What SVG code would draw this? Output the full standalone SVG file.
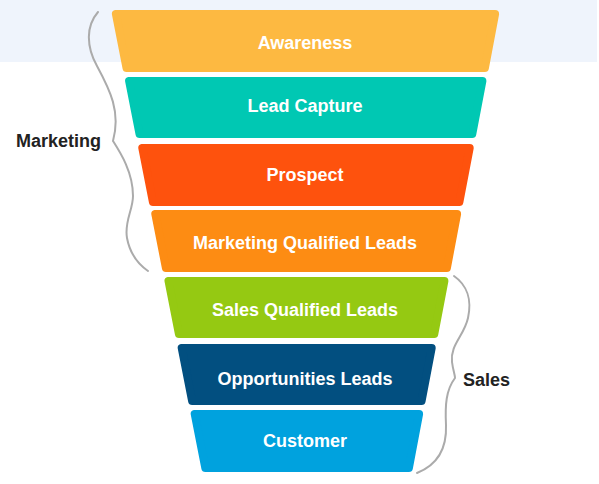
<svg xmlns="http://www.w3.org/2000/svg" width="599" height="484" viewBox="0 0 599 484">
<style>
.band{stroke-width:8;stroke-linejoin:round}
.lbl{font-family:"Liberation Sans",Arial,sans-serif;font-weight:bold;font-size:18px;fill:#ffffff;text-anchor:middle}
.side{font-family:"Liberation Sans",Arial,sans-serif;font-weight:bold;font-size:18px;fill:#222222}
.brace{fill:none;stroke:#ababab;stroke-width:2;stroke-linecap:round}
</style>
<rect x="0" y="0" width="599" height="484" fill="#ffffff"/>
<rect x="0" y="0" width="597" height="62" fill="#eff4fc"/>
<g id="awareness">
<polygon class="band" fill="#fdb941" stroke="#fdb941" points="115.9,14 495.1,14 484.9,68 126.5,68"/>
<text class="lbl" x="305" y="49">Awareness</text>
</g>
<g id="lead-capture">
<polygon class="band" fill="#00c8b3" stroke="#00c8b3" points="129.1,81 482.4,81 472.3,134 139.5,134"/>
<text class="lbl" x="305" y="112">Lead Capture</text>
</g>
<g id="prospect">
<polygon class="band" fill="#fe520d" stroke="#fe520d" points="142.3,148 469.7,148 459.4,202 152.9,202"/>
<text class="lbl" x="305" y="181">Prospect</text>
</g>
<g id="mql">
<polygon class="band" fill="#fd8c13" stroke="#fd8c13" points="155.3,214 457.1,214 446.9,268 165.9,268"/>
<text class="lbl" x="305" y="249">Marketing Qualified Leads</text>
</g>
<g id="sql">
<polygon class="band" fill="#95c912" stroke="#95c912" points="168.5,281 444.4,281 434.3,334 178.9,334"/>
<text class="lbl" x="305" y="316">Sales Qualified Leads</text>
</g>
<g id="opportunities">
<polygon class="band" fill="#024f80" stroke="#024f80" points="181.7,348 431.7,348 421.6,401 192.1,401"/>
<text class="lbl" x="305" y="385">Opportunities Leads</text>
</g>
<g id="customer">
<polygon class="band" fill="#00a2de" stroke="#00a2de" points="194.7,414 419.1,414 408.9,468 205.3,468"/>
<text class="lbl" x="305" y="447">Customer</text>
</g>
<g id="connectors">
<path class="brace" d="M98,12 C86,26 86,46 97,66 C110,90 121,112 113,141 C120,152 133,172 133,196 C133,210 124,222 127,238 C130,254 138,264 148,271"/>
<path class="brace" d="M454,276 C467,285 472,300 468,318 C464,336 450,345 452,362 C453,370 455,375 455,378 C446,390 445,405 446,425 C447,450 437,465 417,473"/>
</g>
<g id="marketing-label">
<text class="side" x="16" y="147">Marketing</text>
</g>
<g id="sales-label">
<text class="side" x="463" y="386">Sales</text>
</g>
</svg>
